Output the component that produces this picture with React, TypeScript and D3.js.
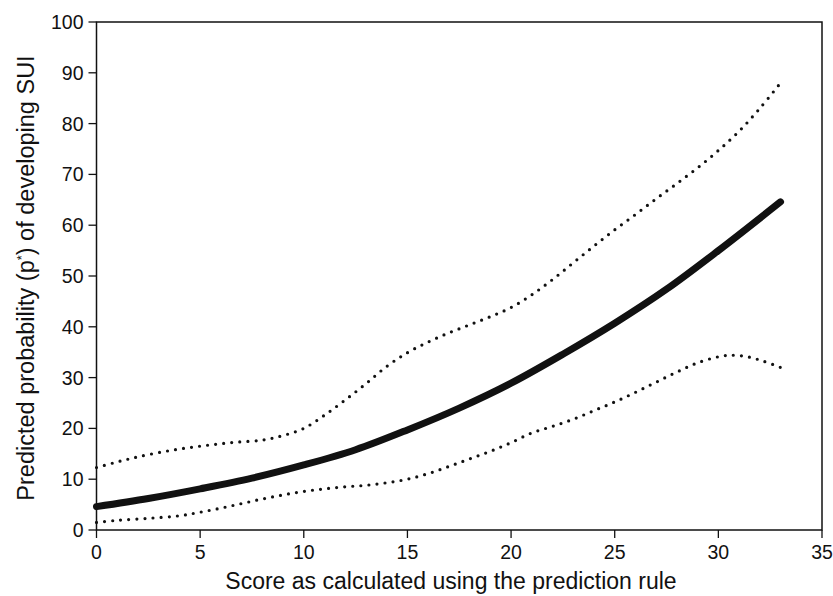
import * as d3 from "d3";

// Predicted probability curve (solid) and its confidence bounds (dotted)
const predX = [0, 2.5, 5, 7.5, 10, 12.5, 15, 17.5, 20, 22.5, 25, 27.5, 30, 33];
const predY = [4.6, 6.2, 8.1, 10.2, 12.8, 15.8, 19.7, 24.0, 28.9, 34.6, 40.7, 47.4, 55.0, 64.6];

const upperX = [0, 1, 2, 3.5, 5, 6.5, 8, 9, 10, 11, 12, 13, 14, 15, 16, 17, 18, 19, 20, 21, 22, 23, 24, 25, 26, 27, 28, 29, 30, 31, 32, 33];
const upperY = [12.3, 13.4, 14.4, 15.6, 16.5, 17.2, 17.7, 18.6, 20.0, 22.6, 25.6, 28.8, 32.2, 34.9, 37.0, 38.8, 40.4, 42.0, 43.8, 46.3, 49.3, 52.6, 55.9, 59.1, 62.1, 65.2, 68.2, 71.3, 74.7, 78.5, 83.0, 88.0];

const lowerX = [0, 1, 2.5, 4, 5, 6, 7, 8, 9, 10, 11, 12, 13, 14, 15, 16, 17, 18, 19, 20, 21, 22, 23, 24, 25, 26, 27, 28, 29, 30, 30.6, 31.4, 32.2, 33];
const lowerY = [1.5, 1.9, 2.3, 2.8, 3.5, 4.3, 5.2, 6.1, 6.9, 7.6, 8.1, 8.5, 8.8, 9.3, 10.0, 11.1, 12.5, 14.0, 15.5, 17.2, 19.1, 20.4, 21.8, 23.5, 25.2, 27.1, 29.1, 31.1, 32.9, 34.1, 34.4, 34.1, 33.2, 32.0];

const xTicks = [0, 5, 10, 15, 20, 25, 30, 35];
const yTicks = [0, 10, 20, 30, 40, 50, 60, 70, 80, 90, 100];

const width = 833;
const height = 596;
const margin = { top: 22, right: 11, bottom: 66, left: 96.5 };
const font = "'Liberation Sans', Arial, Helvetica, sans-serif";

export default function App() {
  const x = d3.scaleLinear().domain([0, 35]).range([margin.left, width - margin.right]);
  const y = d3.scaleLinear().domain([0, 100]).range([height - margin.bottom, margin.top]);

  const line = d3
    .line<[number, number]>()
    .x((d) => x(d[0]))
    .y((d) => y(d[1]))
    .curve(d3.curveCatmullRom.alpha(0.5));

  const pred = line(predX.map((v, i) => [v, predY[i]]))!;
  const upper = line(upperX.map((v, i) => [v, upperY[i]]))!;
  const lower = line(lowerX.map((v, i) => [v, lowerY[i]]))!;

  const x0 = x(0);
  const x1 = x(35);
  const y0 = y(0);
  const y1 = y(100);

  return (
    <svg
      width={width}
      height={height}
      style={{ position: "absolute", left: 0, top: 0, background: "#fff" }}
      fontFamily={font}
    >
      {/* frame */}
      <rect x={x0} y={y1} width={x1 - x0} height={y0 - y1} fill="none" stroke="#111" strokeWidth={1.5} />

      {/* y axis ticks */}
      {yTicks.map((t) => (
        <g key={"y" + t}>
          <line x1={x0 - 8} x2={x0} y1={y(t)} y2={y(t)} stroke="#111" strokeWidth={1.3} />
          <text x={x0 - 13} y={y(t)} dy="0.36em" textAnchor="end" fontSize={19.5} fill="#111">
            {t}
          </text>
        </g>
      ))}

      {/* x axis ticks */}
      {xTicks.map((t) => (
        <g key={"x" + t}>
          <line x1={x(t)} x2={x(t)} y1={y0} y2={y0 + 8} stroke="#111" strokeWidth={1.3} />
          <text x={x(t)} y={y0 + 29} textAnchor="middle" fontSize={19.5} fill="#111">
            {t}
          </text>
        </g>
      ))}

      {/* curves */}
      <path d={upper} fill="none" stroke="#111" strokeWidth={3.2} strokeDasharray="0 8.1" strokeLinecap="round" />
      <path d={lower} fill="none" stroke="#111" strokeWidth={3.2} strokeDasharray="0 8.1" strokeLinecap="round" />
      <path d={pred} fill="none" stroke="#111" strokeWidth={7} strokeLinecap="round" />

      {/* axis titles */}
      <text x={451} y={589} textAnchor="middle" fontSize={23} fill="#111">
        Score as calculated using the prediction rule
      </text>
      <text
        transform={`translate(34,${(y0 + y1) / 2 + 2}) rotate(-90)`}
        textAnchor="middle"
        fontSize={23.5}
        fill="#111"
      >
        Predicted probability (p
        <tspan dy={-8} fontSize={13}>*</tspan>
        <tspan dy={8}>) of developing SUI</tspan>
      </text>
    </svg>
  );
}
